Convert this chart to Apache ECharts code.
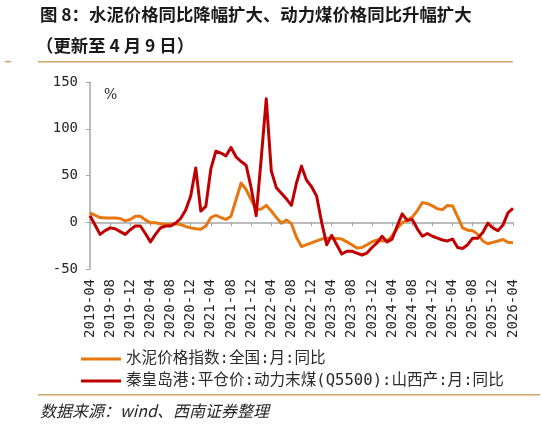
<!DOCTYPE html>
<html>
<head>
<meta charset="utf-8">
<script src="https://cdn.jsdelivr.net/npm/echarts@6/dist/echarts.min.js"></script>
<style>
html,body{margin:0;padding:0;background:#fff;}
#chart{width:542px;height:426px;}
</style>
</head>
<body>
<div id="chart"></div>
<script>
// ---- data ----
function buildMonths(startY, startM, count) {
  var out = [];
  for (var k = 0; k < count; k++) {
    var m = startM - 1 + k;
    var y = startY + Math.floor(m / 12);
    var mm = (m % 12) + 1;
    out.push(y + '-' + (mm < 10 ? '0' + mm : '' + mm));
  }
  return out;
}
var months = buildMonths(2019, 4, 85); // 2019-04 ... 2026-04

var seriesNames = ['水泥价格指数:全国:月:同比', '秦皇岛港:平仓价:动力末煤(Q5500):山西产:月:同比'];

var cementYoY = [
  10, 7.5, 5, 4.5, 4.5, 4.5, 4, 1.5, 3, 6.5,
  6.5, 2.5, -0.5, -0.5, -1.5, -2.5, -2, -1.5, -2.5, -4.5,
  -6, -7, -7.5, -4, 5, 7.5, 5, 3, 6.5, 24,
  42, 35, 24, 14, 14, 18, 12, 5, -1, 2.5,
  -1.5, -16, -26, -24, -22, -20, -18, -17, -17, -17.5,
  -18, -21, -24, -27.5, -27, -24, -21, -19, -20, -20,
  -14.5, -6.5, -0.5, 2, 5.5, 12.5, 21, 20, 17.5, 14.5,
  13.5, 18, 17.5, 6, -6, -8.5, -9, -13, -20, -23,
  -21.5, -20, -18.5, -21.5, -22
];

var coalYoY = [
  7, -3, -13, -9, -6, -7, -10, -13, -8, -4,
  -4, -12, -21, -13, -6, -4, -4, -1, 4, 13,
  28, 58, 12, 17, 57, 76, 74, 71, 80, 70,
  65, 61, 37, 7, 68, 132, 55, 37, 31, 25,
  18, 42, 60, 45, 38, 28, 0, -24, -14, -24,
  -34, -31, -31, -33, -35, -33, -27, -22, -15, -21,
  -18, -4, 9, 2, 3, -7, -15, -12, -15, -17,
  -19, -20, -18, -27, -28, -24, -17, -17, -11, -1,
  -6, -9, -3, 10, 15
];

var yTicks = { min: -50, max: 150, interval: 50 };

// ---- chart ----
var chart = echarts.init(document.getElementById('chart'), null, { renderer: 'canvas' });
var mono = "'DejaVu Sans Mono', 'Noto Sans CJK SC', monospace";
var axisGray = '#a6a6a6';
var ruleColor = '#d3a46c';

chart.setOption({
  backgroundColor: '#ffffff',
  animation: false,
  color: ['#e8760e', '#c00000'],
  grid: { left: 90, right: 29, top: 82, bottom: 157, containLabel: false },
  legend: {
    orient: 'vertical',
    left: 76,
    top: 346,
    itemWidth: 40,
    itemHeight: 3,
    itemGap: 6,
    icon: 'rect',
    textStyle: { fontFamily: mono, fontSize: 15.6, color: '#2b2b2b', lineHeight: 16 },
    data: seriesNames
  },
  xAxis: [
    {
      type: 'category',
      data: months,
      boundaryGap: false,
      axisLine: { onZero: true, lineStyle: { color: axisGray, width: 1.5 } },
      axisTick: { show: true, interval: 3, length: 4, lineStyle: { color: axisGray, width: 1 } },
      axisLabel: { show: false },
      splitLine: { show: false }
    },
    {
      type: 'category',
      data: months,
      boundaryGap: false,
      position: 'bottom',
      axisLine: { show: false, onZero: false },
      axisTick: { show: false },
      axisLabel: { interval: 3, rotate: 90, margin: 10, fontFamily: mono, fontSize: 14, color: '#262626' },
      splitLine: { show: false }
    }
  ],
  yAxis: {
    type: 'value',
    min: yTicks.min,
    max: yTicks.max,
    interval: yTicks.interval,
    axisLine: { show: true, lineStyle: { color: axisGray, width: 1.5 } },
    axisTick: { show: true, length: 4, lineStyle: { color: axisGray } },
    axisLabel: { margin: 12, fontFamily: mono, fontSize: 14, color: '#262626' },
    splitLine: { show: false }
  },
  series: [
    {
      name: seriesNames[0],
      type: 'line',
      xAxisIndex: 0,
      data: cementYoY,
      symbol: 'none',
      lineStyle: { width: 3, color: '#e8760e', join: 'round' },
      itemStyle: { color: '#e8760e' }
    },
    {
      name: seriesNames[1],
      type: 'line',
      xAxisIndex: 0,
      data: coalYoY,
      symbol: 'none',
      lineStyle: { width: 3, color: '#c00000', join: 'round' },
      itemStyle: { color: '#c00000' }
    }
  ],
  graphic: [
    { type: 'text', left: 40, top: 6,
      style: { text: '图 8：水泥价格同比降幅扩大、动力煤价格同比升幅扩大', font: "bold 17.4px 'Noto Sans CJK SC'", fill: '#1a1a1a' } },
    { type: 'text', left: 36, top: 37,
      style: { text: '（更新至 4 月 9 日）', font: "bold 17.4px 'Noto Sans CJK SC'", fill: '#1a1a1a' } },
    { type: 'rect', shape: { x: 38, y: 61, width: 475, height: 1.5 }, style: { fill: ruleColor } },
    { type: 'rect', shape: { x: 5, y: 61, width: 6, height: 1.5 }, style: { fill: ruleColor } },
    { type: 'text', left: 104, top: 88,
      style: { text: '%', font: "14px 'DejaVu Serif'", fill: '#262626' } },
    { type: 'rect', shape: { x: 38, y: 394, width: 502, height: 1.5 }, style: { fill: ruleColor } },
    { type: 'text', left: 40, top: 403,
      style: { text: '数据来源：wind、西南证券整理', font: "italic 16px 'Noto Sans CJK SC'", fill: '#262626' } }
  ]
});
</script>
</body>
</html>
